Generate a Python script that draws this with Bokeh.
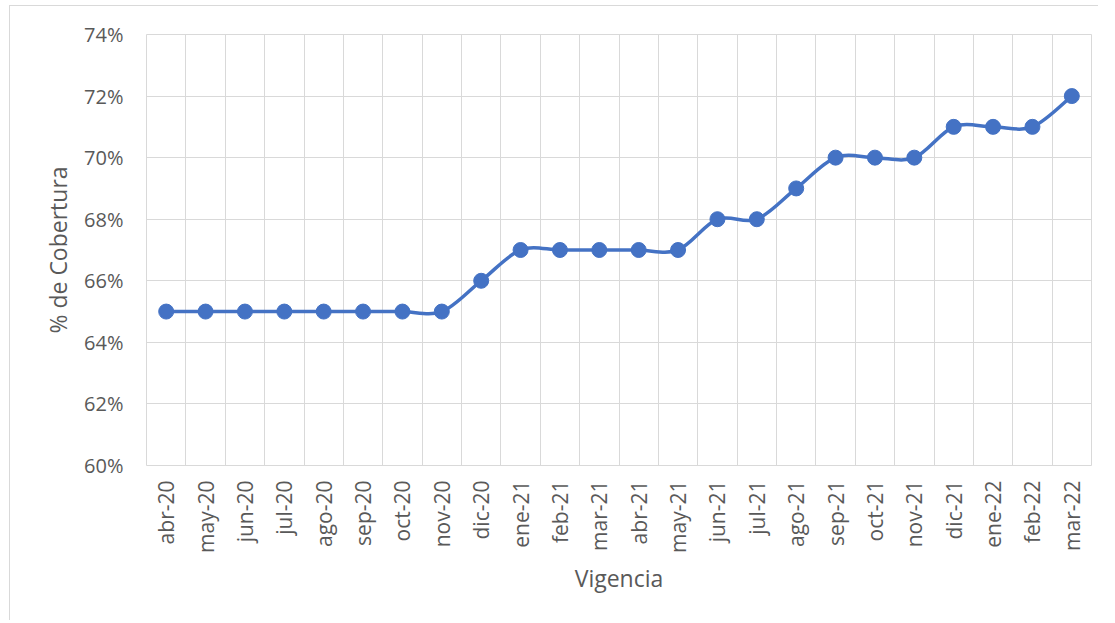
import math
import numpy as np
from bokeh.plotting import figure
from bokeh.models import FixedTicker, NumeralTickFormatter, Range1d, ColumnDataSource
from bokeh.embed import file_html
from bokeh.resources import INLINE

months = ["abr-20", "may-20", "jun-20", "jul-20", "ago-20", "sep-20", "oct-20", "nov-20",
          "dic-20", "ene-21", "feb-21", "mar-21", "abr-21", "may-21", "jun-21", "jul-21",
          "ago-21", "sep-21", "oct-21", "nov-21", "dic-21", "ene-22", "feb-22", "mar-22"]
cobertura = [0.65, 0.65, 0.65, 0.65, 0.65, 0.65, 0.65, 0.65,
             0.66, 0.67, 0.67, 0.67, 0.67, 0.67, 0.68, 0.68,
             0.69, 0.70, 0.70, 0.70, 0.71, 0.71, 0.71, 0.72]
y_ticks = [0.60, 0.62, 0.64, 0.66, 0.68, 0.70, 0.72, 0.74]

FONT = "Open Sans"
TXT = "#595959"
GRID = "#d9d9d9"
BLUE = "#4472C4"

n = len(months)
x = np.arange(n, dtype=float)
y = np.array(cobertura)

p = figure(width=1089, height=615, output_backend="svg", toolbar_location=None,
           x_range=Range1d(-0.5, n - 0.5), y_range=Range1d(0.60, 0.74),
           min_border_left=136, min_border_top=28, min_border_right=8, min_border_bottom=156)
p.styles = {"margin-left": "9px", "margin-top": "5px",
            "border-top": "1px solid #d9d9d9", "border-left": "1px solid #d9d9d9"}
p.outline_line_color = GRID
p.outline_line_width = 1

# smoothed line (Excel-like) via cubic Bezier segments computed from the data
xp = np.concatenate([[x[0]], x, [x[-1]]])
yp = np.concatenate([[y[0]], y, [y[-1]]])
src = dict(x0=[], y0=[], x1=[], y1=[], cx0=[], cy0=[], cx1=[], cy1=[])
for i in range(n - 1):
    P0x, P0y = xp[i], yp[i]
    P1x, P1y = xp[i + 1], yp[i + 1]
    P2x, P2y = xp[i + 2], yp[i + 2]
    P3x, P3y = xp[i + 3], yp[i + 3]
    src["x0"].append(P1x); src["y0"].append(P1y)
    src["x1"].append(P2x); src["y1"].append(P2y)
    src["cx0"].append(P1x + (P2x - P0x) / 6); src["cy0"].append(P1y + (P2y - P0y) / 6)
    src["cx1"].append(P2x - (P3x - P1x) / 6); src["cy1"].append(P2y - (P3y - P1y) / 6)
p.bezier(x0="x0", y0="y0", x1="x1", y1="y1", cx0="cx0", cy0="cy0", cx1="cx1", cy1="cy1",
         source=ColumnDataSource(src), line_color=BLUE, line_width=3.5)
p.scatter(x, y, size=15, fill_color=BLUE, line_color=BLUE)

# axes
p.xaxis.ticker = FixedTicker(ticks=list(range(n)))
p.xaxis.major_label_overrides = {i: m for i, m in enumerate(months)}
p.xaxis.major_label_orientation = math.pi / 2
p.xgrid.ticker = FixedTicker(ticks=[i + 0.5 for i in range(n - 1)])
p.xgrid.grid_line_color = GRID
p.yaxis.ticker = FixedTicker(ticks=y_ticks)
p.yaxis.formatter = NumeralTickFormatter(format="0%")
p.ygrid.grid_line_color = GRID
p.ygrid.ticker = FixedTicker(ticks=y_ticks)

for ax in (p.xaxis, p.yaxis):
    ax.axis_line_color = None
    ax.major_tick_line_color = None
    ax.minor_tick_line_color = None
    ax.major_label_text_font = FONT
    ax.major_label_text_color = TXT
    ax.axis_label_text_font = FONT
    ax.axis_label_text_font_size = "23px"
    ax.axis_label_text_color = TXT
    ax.axis_label_text_font_style = "normal"

p.xaxis.major_label_text_font_size = "21px"
p.yaxis.major_label_text_font_size = "20px"
p.xaxis.axis_label = "Vigencia"
p.yaxis.axis_label = "% de Cobertura"
p.xaxis.major_label_standoff = 9
p.xaxis.axis_label_standoff = 6
p.yaxis.major_label_standoff = 17
p.yaxis.axis_label_standoff = 7

open("out.html", "w").write(file_html(p, INLINE))
